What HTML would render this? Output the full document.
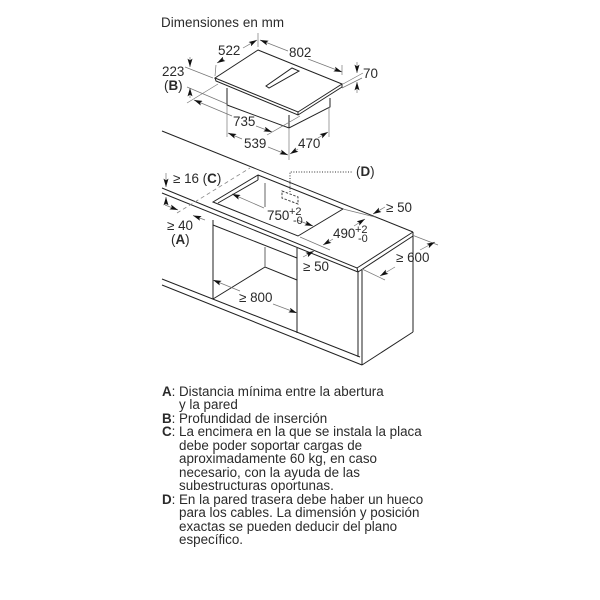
<!DOCTYPE html>
<html><head><meta charset="utf-8"><style>
html,body{margin:0;padding:0;background:#fff}
svg{display:block;filter:blur(.3px)}
text{font-family:"Liberation Sans",sans-serif;font-size:13.4px;fill:#2a2a2a}
.s{font-size:11px}
.b{font-weight:bold}
.k line,.k polyline,.k polygon{stroke:#222;stroke-width:1;fill:none}
.g line,.g polyline{stroke:#777;stroke-width:.7;fill:none}
.a line{stroke:#777;stroke-width:.7}
</style></head><body>
<svg width="600" height="600" viewBox="0 0 600 600" xmlns="http://www.w3.org/2000/svg">
<defs>
<marker id="m" viewBox="0 0 10 6" refX="10" refY="3" markerWidth="8.5" markerHeight="5" markerUnits="userSpaceOnUse" orient="auto-start-reverse"><path d="M10,3 L0,0 L2,3 L0,6 Z" fill="#111"/></marker>
</defs>
<text x="161" y="27" textLength="123">Dimensiones en mm</text>

<!-- hob -->
<g class="k">
<polygon points="258,50 342,84 298,112 215,78"/>
<polyline points="215,78 216,81 298,115 342,87 342,84"/>
<line x1="298" y1="112" x2="298" y2="115"/>
<polygon points="292,68 299,71 269,88 266,86"/>
<polyline points="227,88 227,105 289,128 330,107 330,98"/>
<line x1="289" y1="115" x2="289" y2="128"/>
</g>
<g class="g">
<line x1="258" y1="33" x2="258" y2="47"/>
<line x1="216" y1="65" x2="215" y2="76"/>
<line x1="342" y1="65" x2="342" y2="75"/>
<line x1="343" y1="84" x2="363" y2="73"/>
<line x1="342" y1="88" x2="362" y2="78"/>
<line x1="185" y1="67" x2="213" y2="78"/>
<line x1="187" y1="87" x2="227" y2="104"/>
<line x1="187" y1="103" x2="218" y2="84"/>
<line x1="227" y1="105" x2="227" y2="137"/>
<line x1="289" y1="128" x2="289" y2="160"/>
<line x1="329" y1="107" x2="329" y2="137"/>
<line x1="267" y1="135" x2="300" y2="116"/>
</g>
<g class="a">
<line x1="217" y1="63" x2="224" y2="59" marker-start="url(#m)"/><line x1="243" y1="48" x2="257" y2="40" marker-end="url(#m)"/>
<line x1="260" y1="40" x2="288" y2="51" marker-start="url(#m)"/><line x1="308" y1="59" x2="342" y2="72" marker-end="url(#m)"/>
<line x1="357" y1="62" x2="357" y2="73" marker-end="url(#m)"/><line x1="357" y1="93" x2="357" y2="82" marker-end="url(#m)"/>
<line x1="190" y1="57" x2="190" y2="67" marker-end="url(#m)"/><line x1="190" y1="98" x2="190" y2="88" marker-end="url(#m)"/>
<line x1="194" y1="100" x2="232" y2="116" marker-start="url(#m)"/><line x1="256" y1="126" x2="272" y2="132" marker-end="url(#m)"/>
<line x1="228" y1="133" x2="242" y2="139" marker-start="url(#m)"/><line x1="268" y1="147" x2="288" y2="155" marker-end="url(#m)"/>
<line x1="290" y1="154" x2="298" y2="149" marker-start="url(#m)"/><line x1="318" y1="138" x2="328" y2="132" marker-end="url(#m)"/>
</g>
<text x="218" y="55">522</text>
<text x="289" y="57">802</text>
<text x="363" y="78">70</text>
<text x="162" y="76">223</text>
<text x="164" y="90">(<tspan class="b">B</tspan>)</text>
<text x="233" y="126">735</text>
<text x="244" y="148">539</text>
<text x="298" y="148">470</text>

<!-- counter -->
<g class="k">
<line x1="162" y1="131" x2="413" y2="232"/>
<polyline points="413,232 357,268 162,188"/>
<line x1="162" y1="193" x2="358" y2="272"/>
<line x1="358" y1="272" x2="413" y2="236"/>
<line x1="413" y1="232" x2="413" y2="236"/>
<line x1="357" y1="268" x2="358" y2="272"/>
<polygon points="258,175 343,209 298,236 213,202"/>
<polyline points="258,180 218,203"/>
<line x1="258" y1="175" x2="258" y2="180"/>
<line x1="213" y1="225" x2="297" y2="258"/>
<line x1="213" y1="220" x2="213" y2="299"/>
<line x1="297" y1="248" x2="297" y2="333"/>
<polyline points="213,299 265,267 297,280"/>
<line x1="162" y1="279" x2="360" y2="357"/>
<line x1="162" y1="285" x2="362" y2="365"/>
<line x1="358" y1="271" x2="358" y2="357"/>
<line x1="362" y1="270" x2="362" y2="365"/>
<line x1="362" y1="365" x2="413" y2="332"/>
<line x1="413" y1="236" x2="413" y2="332"/>
</g>
<g stroke="#666" stroke-width="1" fill="none">
<line x1="265" y1="183" x2="265" y2="207"/>
<line x1="265" y1="247" x2="265" y2="267"/>
</g>
<g stroke="#444" fill="none" stroke-width="1" stroke-dasharray="2.5 1.5">
<polygon points="282,191 298,197 298,204 282,198"/>
</g>
<path d="M290,192V172H353" fill="none" stroke="#333" stroke-width="1" stroke-dasharray="1 1.6"/>
<path d="M177,213L250,168" fill="none" stroke="#888" stroke-width=".8" stroke-dasharray="4 3"/>
<g class="g">
<line x1="343" y1="209" x2="375" y2="217"/>
<line x1="300" y1="237" x2="330" y2="250"/>
<line x1="412" y1="235" x2="438" y2="245"/>
<line x1="362" y1="269" x2="385" y2="280"/>
</g>
<g class="a">
<line x1="166" y1="173" x2="166" y2="187" marker-end="url(#m)"/><line x1="166" y1="205" x2="166" y2="197" marker-end="url(#m)"/>
<line x1="165" y1="205" x2="178" y2="210" marker-end="url(#m)"/>
<line x1="205" y1="220" x2="193" y2="215.5" marker-end="url(#m)"/>
<line x1="232" y1="194" x2="264" y2="208" marker-start="url(#m)"/>
<line x1="297" y1="220" x2="313" y2="226" marker-end="url(#m)"/>
<line x1="323" y1="245" x2="333" y2="239" marker-start="url(#m)"/>
<line x1="354" y1="226" x2="365" y2="219" marker-end="url(#m)"/>
<line x1="373" y1="214" x2="385" y2="207" marker-start="url(#m)"/>
<line x1="303" y1="257" x2="314" y2="251" marker-end="url(#m)"/>
<line x1="380" y1="276" x2="395" y2="267" marker-start="url(#m)"/>
<line x1="420" y1="250" x2="435" y2="242" marker-end="url(#m)"/>
<line x1="213" y1="280" x2="240" y2="291" marker-start="url(#m)"/>
<line x1="273" y1="304" x2="297" y2="313" marker-end="url(#m)"/>
</g>
<text x="173" y="183">≥ 16 (<tspan class="b">C</tspan>)</text>
<text x="167" y="230">≥ 40</text>
<text x="171" y="244">(<tspan class="b">A</tspan>)</text>
<text x="356" y="176">(<tspan class="b">D</tspan>)</text>
<text x="267" y="220">750</text><text class="s" x="289" y="215">+2</text><text class="s" x="293" y="224">-0</text>
<text x="333" y="238">490</text><text class="s" x="355" y="233">+2</text><text class="s" x="358" y="242">-0</text>
<text x="386" y="212">≥ 50</text>
<text x="303" y="271">≥ 50</text>
<text x="396" y="262">≥ 600</text>
<text x="239" y="302">≥ 800</text>

<!-- notes -->
<g>
<text x="162" y="396"><tspan class="b">A</tspan>:</text><text x="179" y="396">Distancia mínima entre la abertura</text>
<text x="179" y="409">y la pared</text>
<text x="162" y="423"><tspan class="b">B</tspan>:</text><text x="179" y="423">Profundidad de inserción</text>
<text x="162" y="436"><tspan class="b">C</tspan>:</text><text x="179" y="436">La encimera en la que se instala la placa</text>
<text x="179" y="450">debe poder soportar cargas de</text>
<text x="179" y="463">aproximadamente 60 kg, en caso</text>
<text x="179" y="477">necesario, con la ayuda de las</text>
<text x="179" y="490">subestructuras oportunas.</text>
<text x="162" y="504"><tspan class="b">D</tspan>:</text><text x="179" y="504">En la pared trasera debe haber un hueco</text>
<text x="179" y="517">para los cables. La dimensión y posición</text>
<text x="179" y="531">exactas se pueden deducir del plano</text>
<text x="179" y="544">específico.</text>
</g>
</svg>
</body></html>
